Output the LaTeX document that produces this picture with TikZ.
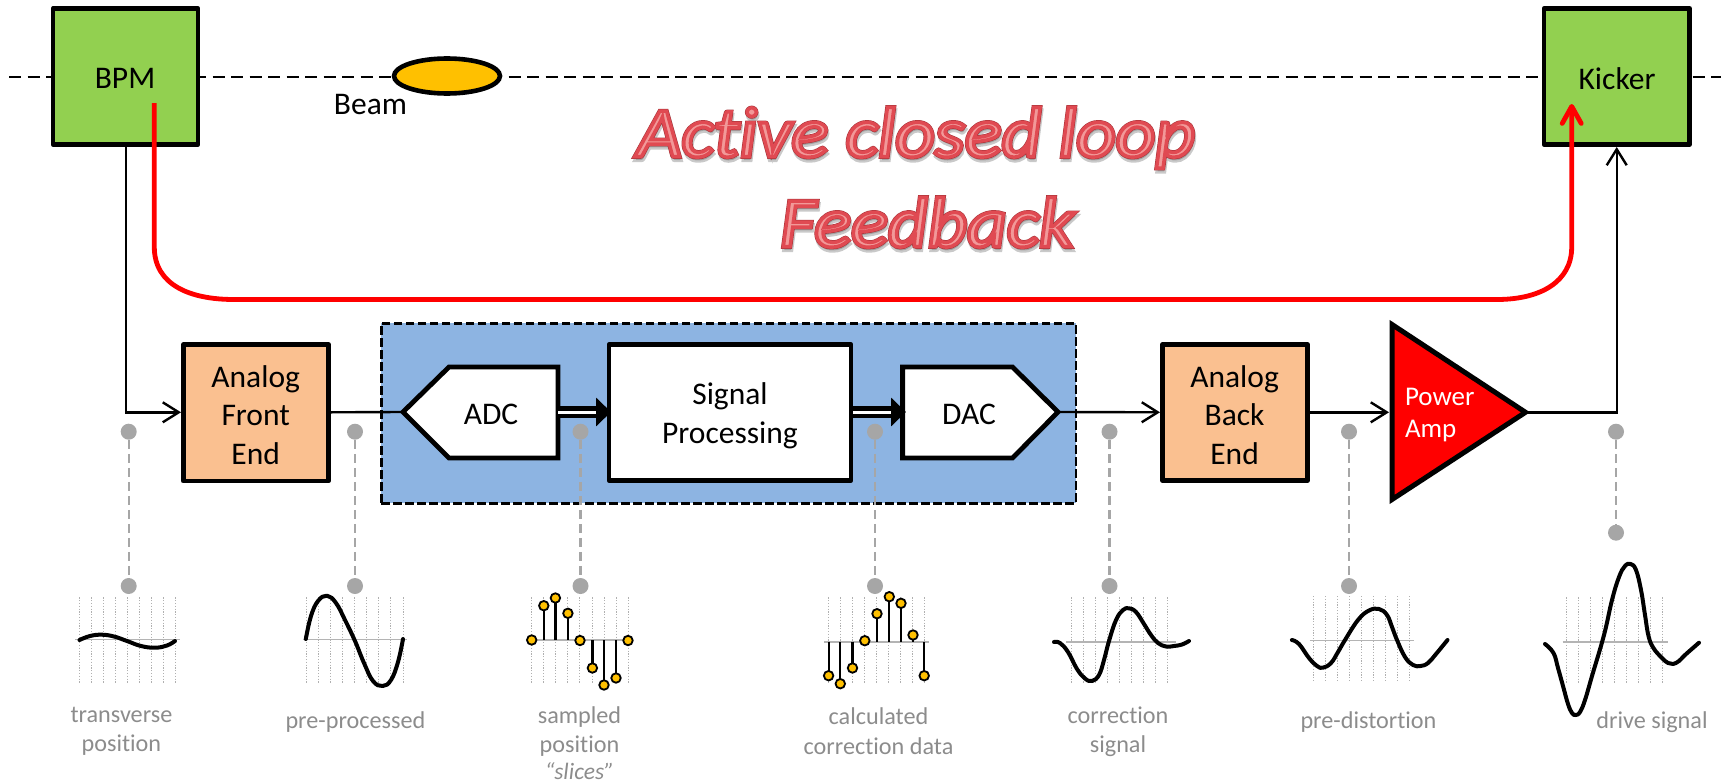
\documentclass[tikz,border=0pt]{standalone}
\usepackage{fontspec}
\setmainfont{Carlito}[Ligatures=CommonOff]
\newfontfamily\ttlfont{Carlito}[Ligatures=CommonOff,ItalicFeatures={FakeBold=6.3,FakeStretch=1.085}]
\newfontfamily\ttlfontb{Carlito}[Ligatures=CommonOff,ItalicFeatures={FakeBold=4.8,FakeStretch=1.085}]
\usetikzlibrary{arrows.meta,shapes.geometric,calc}
\definecolor{grn}{HTML}{92D050}
\definecolor{org}{HTML}{FAC090}
\definecolor{blu}{HTML}{8DB4E2}
\definecolor{yel}{HTML}{FFC000}
\definecolor{gdotc}{HTML}{A6A6A6}
\definecolor{lbl}{HTML}{8C8C8C}
\definecolor{gridc}{HTML}{B0B0B0}
\definecolor{axisc}{HTML}{B4B4B4}
\tikzset{
  x=1pt,y=-1pt,
  box/.style={draw=black,line width=4.8pt,line join=round,inner sep=0pt,align=center,text=black},
  t30/.style={font=\fontsize{31.5}{38.5}\selectfont},
  wire/.style={draw=black,line width=2.4pt,line join=miter},
  opena/.style={-{Straight Barb[length=16pt,width=20pt,line width=2.4pt]}},
  fatarrow/.style={double=white,draw=black,double distance=3pt,line width=4.5pt,-{Triangle[length=15pt,width=28pt]},shorten >=0pt},
  gdot/.style={circle,fill=gdotc,minimum size=16pt,inner sep=0pt},
  gdash/.style={draw=gdotc,line width=2.4pt,dash pattern=on 9pt off 5pt},
  griddot/.style={draw=gridc,line width=1pt,dash pattern=on 1.2pt off 1.6pt},
  axisl/.style={draw=axisc,line width=1.6pt},
  wave/.style={draw=black,line width=4pt,line cap=round,line join=round},
  stem/.style={draw=black,line width=2.2pt},
  lolli/.style={circle,draw=black,fill=yel,line width=1.8pt,minimum width=9.5pt,minimum height=9.5pt,inner sep=0pt},
  lab/.style={text=lbl,font=\fontsize{24.2}{29.5}\selectfont,align=center,inner sep=0pt},
  ttl/.style={inner sep=0pt,anchor=base}
}
\newcommand{\gridlines}[4]{\foreach \gi in {0,...,8}{\draw[griddot] ({#1+\gi*#2},#3) -- ({#1+\gi*#2},#4);}}
\newcommand{\ttlshadow}[1]{\ttlfont\fontsize{71}{80}\selectfont\itshape\special{pdf:bcolor [0.3 0.3 0.3] [0.3 0.3 0.3]}#1\special{pdf:ecolor}}
\newcommand{\ttldark}[1]{\ttlfont\fontsize{71}{80}\selectfont\itshape\special{pdf:bcolor [0.66 0.20 0.22] [0.66 0.20 0.22]}#1\special{pdf:ecolor}}
\newcommand{\ttltop}[1]{\ttlfontb\fontsize{71}{80}\selectfont\itshape\special{pdf:bcolor [0.95 0.60 0.60] [0.88 0.29 0.32]}#1\special{pdf:ecolor}}
\begin{document}
\begin{tikzpicture}
\useasboundingbox (0,0) rectangle (1721,784);
% beam line
\coordinate (beamL) at (9,76.7);
\coordinate (beamR) at (1721,76.7);
\draw[line width=2.2pt,dash pattern=on 12pt off 6.5pt] (beamL) -- (beamR);
\node[box,fill=grn,t30,minimum width=145pt,minimum height=136pt] (bpm) at (125.5,76.5) {};
\node[box,fill=grn,t30,minimum width=145.5pt,minimum height=136pt] (kicker) at (1616.8,76.5) {};
\node[t30,inner sep=0pt] (bpmt) at (125,78.5) {BPM};
\node[t30,inner sep=0pt] (kickert) at (1617,78.5) {Kicker};
\node[ellipse,draw=black,fill=yel,line width=4.6pt,minimum width=106pt,minimum height=35pt,inner sep=0pt] (bunch) at (447,76) {};
\node[t30,inner sep=0pt] (beamt) at (370.5,105) {Beam};
% title
\node[ttl,opacity=.3] (ttlsa) at (917,160) {\ttlshadow{Active closed loop}};
\node[ttl,opacity=.3] (ttlsb) at (928,250) {\ttlshadow{Feedback}};
\node[ttl] (ttla) at (916,156.7) {\ttldark{Active closed loop}};
\node[ttl] (ttlb) at (927,246.7) {\ttldark{Feedback}};
\node[ttl] (ttlc) at (916,156.7) {\ttltop{Active closed loop}};
\node[ttl] (ttld) at (927,246.7) {\ttltop{Feedback}};
% blue group
\node[draw=black,fill=blu,line width=2.8pt,dash pattern=on 8.5pt off 3.5pt,minimum width=694.5pt,minimum height=180pt,inner sep=0pt] (dsp) at (728.7,413.3) {};
% boxes
\node[box,fill=org,minimum width=145pt,minimum height=136.5pt] (afe) at (256,412.8) {};
\node[box,fill=org,minimum width=145pt,minimum height=136pt] (abe) at (1235,412.5) {};
\node[box,fill=white,minimum width=242pt,minimum height=136pt] (sp) at (730,412.5) {};
\node[t30,align=center,inner sep=0pt] (afet) at (255.7,415) {Analog\\Front\\End};
\node[t30,align=center,inner sep=0pt] (abet) at (1234.6,415) {Analog\\Back\\End};
\node[t30,align=center,inner sep=0pt] (spt) at (730,416) {Signal\\Processing};
% ADC / DAC
\coordinate (adcIn) at (401,412);
\coordinate (adcOut) at (558,412);
\coordinate (dacIn) at (902.6,412);
\coordinate (dacOut) at (1060,412);
\draw[box,fill=white,line join=miter] (403,412) -- (449,367) -- (558,367) -- (558,458) -- (449,458) -- cycle;
\draw[box,fill=white,line join=miter] (1058,412) -- (1012.5,367) -- (902.6,367) -- (902.6,458) -- (1012.5,458) -- cycle;
\node[t30,inner sep=0pt] (adc) at (491,414.5) {ADC};
\node[t30,inner sep=0pt] (dac) at (969,414.5) {DAC};
% amp
\coordinate (ampIn) at (1389,412.3);
\coordinate (ampOut) at (1528,412.3);
\draw[line width=5pt,fill=red,draw=black,line join=miter] (1392,324.5) -- (1525.5,412.3) -- (1392,499.5) -- cycle;
\node[text=white,font=\fontsize{27}{32}\selectfont,align=left,anchor=west,inner sep=0pt] (ampt) at (1404.8,415) {Power\\Amp};
% wires
\coordinate (bpmDown) at (125.7,147);
\coordinate (corner1) at (125.7,412.3);
\coordinate (afeIn) at (181,412.3);
\coordinate (corner2) at (1616.7,412.3);
\coordinate (kickIn) at (1616.7,147);
\draw[wire,opena] (bpmDown) -- (corner1) -- (afeIn);
\draw[wire] (331,412.3) -- (adcIn);
\draw[wire,opena] (dacOut) -- (1160,412.3);
\draw[wire,opena] (1310,412.3) -- (ampIn);
\draw[wire,opena] (ampOut) -- (corner2) -- (kickIn);
\draw[fatarrow] (adcOut) -- (611,412);
\draw[fatarrow] (853,412) -- (906,412);
% red loop
\coordinate (redS) at (154.3,103);
\coordinate (redE) at (1571.7,104);
\draw[red,line width=4.8pt,-{Straight Barb[length=17pt,width=19pt,line width=4.8pt,round]}] (redS) -- (154.3,247) .. controls (154.3,285) and (190,299.5) .. (234,299.5) -- (1497,299.5) .. controls (1540,299.5) and (1571.7,282) .. (1571.7,247) -- (redE);
% grey probes
\foreach \n/\x/\yb in {a/128.7/586,b/355/586,c/580.5/586,d/875/586,e/1109.5/586,f/1349/586,g/1616/532.7}{
  \node[gdot] (top\n) at (\x,431.7) {};
  \node[gdot] (bot\n) at (\x,\yb) {};
  \draw[gdash] (top\n) -- (bot\n);
}
% W1
\gridlines{79.5}{12.05}{597.3}{684}
\draw[axisl] (75,639.3) -- (180,639.3);
\draw[wave] plot[smooth,tension=.7] coordinates {(79.5,640) (90,636) (101.8,634.7) (114,636.5) (127,641) (141,646) (155,647.7) (167,645.5) (175,641)};
% W2
\gridlines{306.3}{12.09}{597.3}{684}
\draw[axisl] (302.7,639.3) -- (407,639.3);
\draw[wave] plot[smooth,tension=.7] coordinates {(305.8,639) (311,616) (318,601) (327,595.7) (336,603) (345,620) (355,641) (364,663) (373,681) (382.6,686) (391,680) (398,662) (403,639)};
% W3
\gridlines{531.5}{12.1}{597.3}{684}
\draw[axisl] (531.5,640) -- (628,640);
\foreach \i/\x/\y in {1/531.7/640,2/543.8/605.7,3/555.4/598,4/567.9/613.3,5/580/640.5,6/592.4/668,7/604/685,8/616/678,9/628/640.5}{
  \coordinate (sb\i) at (\x,640);
  \coordinate (st\i) at (\x,\y);
  \draw[stem] (sb\i) -- (st\i);
  \node[lolli] (sp\i) at (st\i) {};
}
% W4
\gridlines{828.6}{12}{597.3}{684}
\draw[axisl] (824,641.7) -- (929,641.7);
\foreach \i/\x/\y in {1/828.6/675.7,2/840.3/683.7,3/852.5/668,4/864.8/640.7,5/877/613.7,6/889.3/596.7,7/901/603.3,8/913/635,9/924.2/675.7}{
  \coordinate (cb\i) at (\x,641.7);
  \coordinate (ct\i) at (\x,\y);
  \draw[stem] (cb\i) -- (ct\i);
  \node[lolli] (cp\i) at (ct\i) {};
}
% W5
\gridlines{1071.3}{12.03}{597.3}{684}
\draw[axisl] (1066,641.7) -- (1176,641.7);
\draw[wave] plot[smooth,tension=.7] coordinates {(1054,642) (1060,643) (1068,652) (1077,669) (1085,678.5) (1092,681) (1099,675) (1104,660) (1109,641) (1116,620) (1123,610) (1129,608.3) (1136,612) (1144,624) (1151,635) (1158,643) (1166,646.5) (1174,646) (1182,644.5) (1189,641)};
% W6
\gridlines{1313.3}{12.03}{596}{682.7}
\draw[axisl] (1309.6,640.3) -- (1413.8,640.3);
\draw[wave] plot[smooth,tension=.7] coordinates {(1291.9,640) (1299,644) (1309,658) (1317,666) (1323,667.7) (1331,663) (1338,652) (1345,640) (1358,620) (1369,610.5) (1379,609) (1387,615) (1392,627) (1397,640) (1405,657) (1413,665) (1420.5,666) (1428,663) (1436,654) (1447.5,640)};
% W7
\gridlines{1566.4}{12.03}{597.3}{684}
\draw[axisl] (1562.7,641.7) -- (1668,641.7);
\draw[wave] plot[smooth,tension=.7] coordinates {(1545,644) (1553.5,653) (1558,668) (1563,686) (1568,704) (1572,713) (1575.6,715) (1580,712) (1585,700) (1592,676) (1604,635) (1612,600) (1619,577) (1625,566) (1630.7,564) (1636,570) (1641,590) (1645,615) (1648.5,636) (1653.4,648) (1662,658) (1668,663) (1673,664) (1679,661) (1685,655) (1699,642.7)};
% labels
\node[lab] (l1) at (121.4,731.5) {transverse\\position};
\node[lab] (l2) at (355.4,722) {pre-processed};
\node[lab] (l3) at (579.5,731.5) {sampled\\position};
\node[lab,font=\fontsize{23.5}{26}\selectfont] (l3b) at (579.5,771) {\textit{“slices”}};
\node[lab] (l4) at (878.5,731) {calculated\\correction data};
\node[lab] (l5) at (1118,731.5) {correction\\signal};
\node[lab] (l6) at (1368.5,722) {pre-distortion};
\node[lab] (l7) at (1652,722) {drive signal};
\end{tikzpicture}
\end{document}
